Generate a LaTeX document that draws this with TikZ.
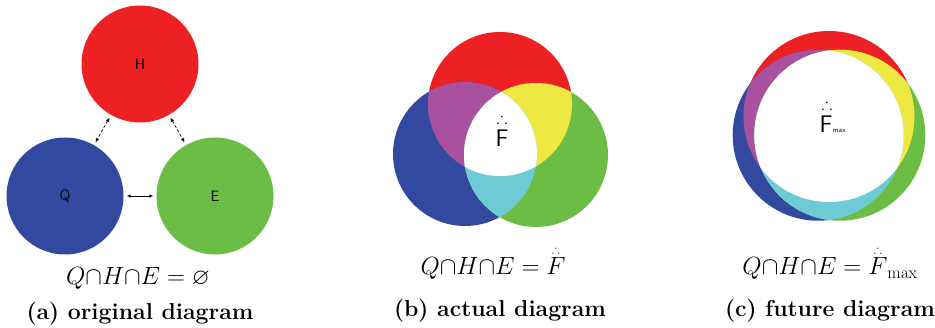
\documentclass[tikz,border=0pt]{standalone}
\usepackage{amsmath,amssymb}
\usetikzlibrary{arrows.meta}
\definecolor{cred}{HTML}{ED2024}
\definecolor{cblue}{HTML}{33499F}
\definecolor{cgreen}{HTML}{6BBD45}
\definecolor{cmag}{HTML}{A9519F}
\definecolor{cyel}{HTML}{EEE843}
\definecolor{ccyan}{HTML}{6DCBD6}
\newcommand{\qcap}{\mathord{\cap}}
\newcommand{\threedot}{\overset{\scriptscriptstyle\therefore}{F}}
\begin{document}
\begin{tikzpicture}[x=1pt,y=-1pt,
  setcirc/.style={circle,inner sep=0pt,minimum size=117pt,font=\fontsize{15}{15}\sffamily},
  link/.style={densely dashed,line width=0.7pt,{Latex[length=4pt,width=3.5pt]}-{Latex[length=4pt,width=3.5pt]},shorten <=3pt,shorten >=3pt},
  formula/.style={font=\fontsize{23}{23}\selectfont,inner sep=0pt,anchor=base},
  caption/.style={font=\fontsize{23}{23}\selectfont\bfseries,inner sep=0pt,anchor=base},
  label/.style={font=\fontsize{24}{24}\sffamily,inner sep=0pt},
  dots/.style={font=\fontsize{16}{16}\selectfont,inner sep=0pt}]
\useasboundingbox (0,0) rectangle (935,328);
% ---------- (a)
\node[setcirc,fill=cred]   (H) at (140,64)  {H};
\node[setcirc,fill=cblue]  (Q) at (65,196)  {Q};
\node[setcirc,fill=cgreen] (E) at (215,196) {E};
\draw[link] (H) -- (Q);
\draw[link] (H) -- (E);
\draw[link,solid] (Q) -- (E);
\node[formula] (fa) at (138,285) {$Q\qcap H\qcap E = \varnothing$};
\node[caption] (ca) at (140,320) {(a) original diagram};
% ---------- (b)
\fill[cred]   (500pt,-104pt) circle (72pt);
\fill[cblue]  (465pt,-154pt) circle (72pt);
\fill[cgreen] (536pt,-155pt) circle (72pt);
\begin{scope}
  \clip (500pt,-104pt) circle (72pt);
  \fill[cmag] (465pt,-154pt) circle (72pt);
  \fill[cyel] (536pt,-155pt) circle (72pt);
\end{scope}
\begin{scope}
  \clip (465pt,-154pt) circle (72pt);
  \fill[ccyan] (536pt,-155pt) circle (72pt);
\end{scope}
\begin{scope}
  \clip (500pt,-104pt) circle (72pt);
  \clip (465pt,-154pt) circle (72pt);
  \fill[white] (536pt,-155pt) circle (72pt);
\end{scope}
\node[label] (Fb) at (502,138) {F};
\node[dots] (Db) at (502,118) {$\therefore$};
\node[formula] (fb) at (493,275) {$Q\qcap H\qcap E = \threedot$};
\node[caption] (cb) at (500,317) {(b) actual diagram};
% ---------- (c)
\fill[cred]   (829pt,-116.5pt) circle (85.5pt);
\fill[cblue]  (818.2pt,-135.25pt) circle (85.5pt);
\fill[cgreen] (839.8pt,-135.25pt) circle (85.5pt);
\begin{scope}
  \clip (829pt,-116.5pt) circle (85.5pt);
  \fill[cmag] (818.2pt,-135.25pt) circle (85.5pt);
  \fill[cyel] (839.8pt,-135.25pt) circle (85.5pt);
\end{scope}
\begin{scope}
  \clip (818.2pt,-135.25pt) circle (85.5pt);
  \fill[ccyan] (839.8pt,-135.25pt) circle (85.5pt);
\end{scope}
\begin{scope}
  \clip (829pt,-116.5pt) circle (85.5pt);
  \clip (818.2pt,-135.25pt) circle (85.5pt);
  \fill[white] (839.8pt,-135.25pt) circle (85.5pt);
\end{scope}
\node[label] (Fc) at (826,124) {F};
\node[dots] (Dc) at (827,104) {$\therefore$};
\node[font=\fontsize{7}{7}\sffamily,inner sep=0pt,anchor=base west] (mx) at (Fc.base east) {max};
\node[formula] (fc) at (830,275) {$Q\qcap H\qcap E = \threedot_{\mathrm{max}}$};
\node[caption] (cc) at (830,317) {(c) future diagram};
\end{tikzpicture}
\end{document}
